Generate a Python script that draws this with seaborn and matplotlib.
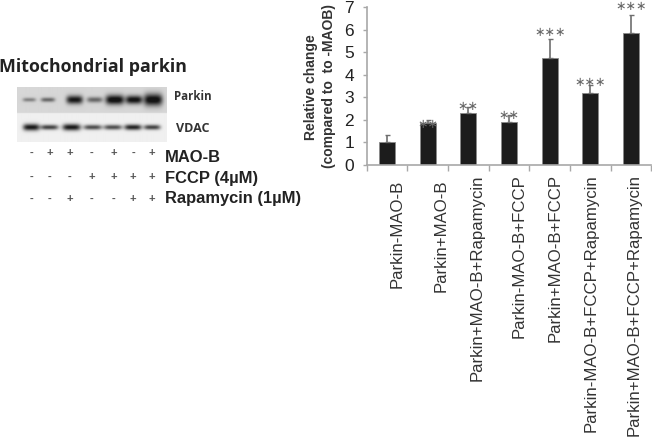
import numpy as np
import pandas as pd
import seaborn as sns
from matplotlib import pyplot as plt
from matplotlib import transforms

W, H = 652, 437

conditions = ['Parkin-MAO-B', 'Parkin+MAO-B', 'Parkin+MAO-B+Rapamycin', 'Parkin-MAO-B+FCCP',
              'Parkin+MAO-B+FCCP', 'Parkin-MAO-B+FCCP+Rapamycin', 'Parkin+MAO-B+FCCP+Rapamycin']
change = [1.0, 1.87, 2.32, 1.9, 4.75, 3.2, 5.85]
err_up = [0.35, 0.13, 0.25, 0.32, 0.85, 0.35, 0.8]
stars = ['', '**', '**', '**', '***', '***', '***']
star_y = [0, 1.81, 2.57, 2.21, 5.89, 3.64, 7.0]
yticks = [0, 1, 2, 3, 4, 5, 6, 7]

# blot
parkin_strength = [0.42, 0.55, 0.95, 0.55, 1.05, 1.0, 1.05]
parkin_width = [6.5, 7, 8.2, 7.7, 9.3, 8.2, 9.3]
parkin_thick = [2.0, 2.2, 4.2, 2.8, 4.8, 4.2, 6.0]
vdac_strength = [1.0, 0.8, 1.0, 0.75, 0.75, 0.95, 0.8]
vdac_width = [8.2, 8.8, 9, 9, 9, 8.5, 8.2]
vdac_thick = [3.4, 2.5, 3.3, 2.5, 2.5, 2.8, 2.5]
lane_parkin = [29, 47.5, 74, 94, 114, 133, 152]
lane_vdac = [31, 49, 71, 92, 112, 132, 151]
maob = ['-', '+', '+', '-', '+', '-', '+']
fccp = ['-', '-', '-', '+', '+', '+', '+']
rapa = ['-', '-', '+', '-', '-', '+', '+']
sign_x = [32, 50, 70, 92, 114, 133, 152]

sns.set_theme(style='white', rc={'font.family': ['Liberation Sans', 'DejaVu Sans']})
fig = plt.figure(figsize=(W / 100, H / 100), dpi=100)


def px_axes(left, top, right, bottom):
    return fig.add_axes([left / W, 1 - bottom / H, (right - left) / W, (bottom - top) / H])


def label(x, y, s, **kw):
    fig.text(x / W, 1 - y / H, s, **kw)


# bar chart
df = pd.DataFrame({'condition': conditions, 'change': change})
ax = px_axes(366.7, 7, 651.3, 165)
sns.barplot(data=df, x='condition', y='change', color='#1c1c1c', width=0.39, saturation=1,
            edgecolor='#8a8a8a', linewidth=0.6, ax=ax)
ax.errorbar(range(len(change)), change, yerr=[np.zeros(len(change)), err_up], fmt='none',
            ecolor='#6e6e6e', elinewidth=1.2, capsize=1.8, capthick=1, zorder=1)
for i, s in enumerate(stars):
    if s:
        ax.text(i, star_y[i], s.replace('*', '∗'), ha='center', va='center', color='#666666', fontsize=9,
                family='DejaVu Sans', clip_on=False)
ax.set_xlim(-0.5, 6.5)
ax.set_ylim(0, 7)
ax.set_yticks(yticks)
ax.set_xlabel('')
ax.set_ylabel('')
ax.tick_params(axis='y', left=True, length=3, width=1, color='#a8a8a8', labelsize=12.5, labelcolor='#222222', pad=6)
ax.set_xticks(np.arange(-0.5, 7, 1), minor=True)
ax.tick_params(axis='x', which='minor', bottom=True, length=4, width=1, color='#a8a8a8')
ax.tick_params(axis='x', which='major', bottom=False, labelsize=12.1, labelcolor='#333333', rotation=90, pad=0)
ax.spines[['top', 'right']].set_visible(False)
ax.spines[['left', 'bottom']].set_color('#a8a8a8')
ax.spines[['left', 'bottom']].set_linewidth(1.2)

# the labels do not sit exactly under their bars in the original
shift_x = [10.5, 13, 9, 10, 5, 0.5, 3.5]
shift_y = [6, 6, 1, 1, 1, 1, 1]
for lab, dx, dy in zip(ax.get_xticklabels(), shift_x, shift_y):
    lab.set_transform(lab.get_transform() + transforms.Affine2D().translate(dx, -dy))
    lab.set_verticalalignment('top')

label(311, 87, 'Relative change', rotation=90, ha='center', va='center', fontsize=10, weight='bold', color='#333333')
label(329, 86, '(compared to  to -MAOB)', rotation=90, ha='center', va='center', fontsize=10, weight='bold',
      color='#333333')

# western blot
ax_b = px_axes(17, 87, 166, 142)
xx, yy = np.meshgrid(np.arange(17, 166, 0.5), np.arange(87, 142, 0.5))
blot = np.where(yy < 113, 0.84, 0.94)
for i in range(len(lane_parkin)):
    blot -= 0.8 * parkin_strength[i] * np.exp(-((np.abs(xx - lane_parkin[i]) / parkin_width[i]) ** 4
                                                + ((yy - 99.5) / parkin_thick[i]) ** 2))
    blot -= 0.85 * vdac_strength[i] * np.exp(-((np.abs(xx - lane_vdac[i]) / vdac_width[i]) ** 4
                                               + ((yy - 127) / vdac_thick[i]) ** 2))
ax_b.imshow(np.clip(blot, 0.08, 1), cmap='gray', vmin=0, vmax=1, aspect='auto', interpolation='bilinear')
ax_b.axis('off')

label(174, 96, 'Parkin', ha='left', va='center', fontsize=8.3, weight='bold', color='#333333', family='Open Sans')
label(176, 128, 'VDAC', ha='left', va='center', fontsize=9, weight='bold', color='#333333', family='Open Sans')
label(-1, 67, 'Mitochondrial parkin', ha='left', va='center', fontsize=12.8, weight='bold', color='#222222',
      family='Open Sans')

for row, y, ty, name in [(maob, 153, 157, 'MAO-B'), (fccp, 177, 178, 'FCCP (4µM)'), (rapa, 199, 198, 'Rapamycin (1µM)')]:
    for sx, s in zip(sign_x, row):
        label(sx, y, s, ha='center', va='center', fontsize=8, weight='bold', color='#555555')
    label(165, ty, name, ha='left', va='center', fontsize=11.9, weight='bold', color='#222222')

fig.savefig('out.png', dpi=100)
